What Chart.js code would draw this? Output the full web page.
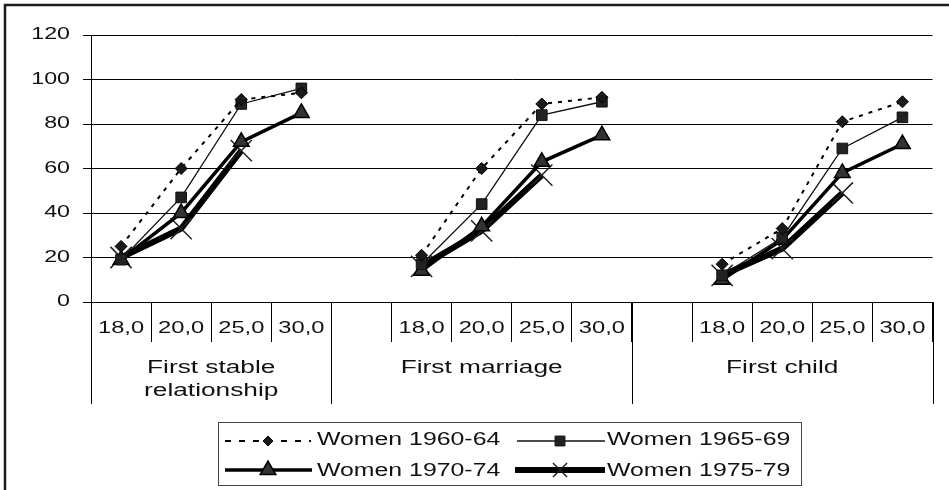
<!DOCTYPE html>
<html>
<head>
<meta charset="utf-8">
<script src="https://cdn.jsdelivr.net/npm/chart.js@4.4.1/dist/chart.umd.min.js"></script>
<style>
  html, body { margin: 0; padding: 0; background: #fff; }
  canvas { display: block; }
</style>
</head>
<body>
<canvas id="chart" width="949" height="490"></canvas>
<script>
// values, one list per group (stable rel., marriage, child)
const ages = ["18,0", "20,0", "25,0", "30,0"];
const groups = [["First stable", "relationship"], ["First marriage"], ["First child"]];
const yTicks = [0, 20, 40, 60, 80, 100, 120];

const w6064 = [[25, 60, 91, 94], [21, 60, 89, 92], [17, 33, 81, 90]];
const w6569 = [[19, 47, 89, 96], [17, 44, 84, 90], [12, 29, 69, 83]];
const w7074 = [[19, 40, 72, 85], [14, 34, 63, 75], [10, 28, 58, 71]];
const w7579 = [[20, 33, 68, null], [16, 32, 57, null], [12, 24, 49, null]];

const FONT = '"Liberation Sans", Arial, sans-serif';

// flatten: a blank slot in front of every group but the first
const labels = [];
const groupStart = [];
groups.forEach((g, i) => {
  if (i > 0) labels.push("");
  groupStart.push(labels.length - (i > 0 ? 1 : 0));
  ages.forEach(a => labels.push(a));
});
groupStart.push(labels.length);

function flat(series) {
  const out = [];
  series.forEach((vals, i) => {
    if (i > 0) out.push(null);
    vals.forEach(v => out.push(v));
  });
  return out;
}

function wideText(ctx, txt, x, y, size, sx, align, base) {
  ctx.save();
  ctx.translate(x, y);
  ctx.scale(sx, 1);
  ctx.font = size + "px " + FONT;
  ctx.textAlign = align;
  ctx.textBaseline = base || "alphabetic";
  ctx.fillStyle = "#111";
  ctx.fillText(txt, 0, 0);
  ctx.restore();
}

function marker(ctx, style, r, x, y, fill, stroke, bw) {
  ctx.save();
  ctx.beginPath();
  if (style === "rectRot") {
    ctx.moveTo(x - r, y); ctx.lineTo(x, y - r); ctx.lineTo(x + r, y); ctx.lineTo(x, y + r); ctx.closePath();
  } else if (style === "rect") {
    const s = r * Math.SQRT1_2;
    ctx.rect(x - s, y - s, 2 * s, 2 * s);
  } else if (style === "triangle") {
    ctx.moveTo(x, y - r);
    ctx.lineTo(x + r * 0.866, y + r * 0.5);
    ctx.lineTo(x - r * 0.866, y + r * 0.5);
    ctx.closePath();
  } else if (style === "crossRot") {
    const o = r * Math.SQRT1_2;
    ctx.moveTo(x - o, y - o); ctx.lineTo(x + o, y + o);
    ctx.moveTo(x - o, y + o); ctx.lineTo(x + o, y - o);
  }
  ctx.fillStyle = fill;
  ctx.strokeStyle = stroke;
  ctx.lineWidth = bw;
  if (style !== "crossRot") ctx.fill();
  ctx.stroke();
  ctx.restore();
}

const legendPos = [
  { lx0: 225, lx1: 311, mx: 268, tx: 317, y: 441, ty: 445, r: 5 },
  { lx0: 517, lx1: 605, mx: 560, tx: 607, y: 441, ty: 445, r: 7 },
  { lx0: 225, lx1: 312, mx: 268, tx: 317, y: 470, ty: 475.5, r: 9 },
  { lx0: 515, lx1: 605, mx: 560, tx: 607, y: 470, ty: 475.5, r: 10 }
];

const decor = {
  id: "decor",
  afterDraw(chart) {
    const ctx = chart.ctx;
    const xs = chart.scales.x, ys = chart.scales.y;
    const slot = xs.getPixelForValue(1) - xs.getPixelForValue(0);
    const base = ys.getPixelForValue(0);

    // outer frame (only left and top are visible)
    ctx.save();
    ctx.strokeStyle = "#1a1a1a";
    ctx.lineWidth = 2.5;
    ctx.beginPath();
    ctx.moveTo(5, 490); ctx.lineTo(5, 5); ctx.lineTo(949, 5);
    ctx.stroke();

    // long separators under the category axis
    ctx.strokeStyle = "#000";
    ctx.lineWidth = 1;
    groupStart.forEach(i => {
      const bx = Math.round(xs.getPixelForValue(i) - slot / 2) + 0.5;
      ctx.beginPath();
      ctx.moveTo(bx, base);
      ctx.lineTo(bx, 404);
      ctx.stroke();
    });
    ctx.restore();

    // y tick labels
    ys.ticks.forEach(t => {
      wideText(ctx, String(t.value), 70, ys.getPixelForValue(t.value), 16, 1.45, "right", "middle");
    });

    // x tick labels
    labels.forEach((l, i) => {
      if (l) wideText(ctx, l, xs.getPixelForValue(i), 329, 16, 1.48, "center", "middle");
    });

    // group labels
    groups.forEach((lines, g) => {
      const a = xs.getPixelForValue(groupStart[g]) - slot / 2;
      const b = xs.getPixelForValue(groupStart[g + 1]) - slot / 2;
      lines.forEach((txt, k) => {
        wideText(ctx, txt, (a + b) / 2, 373 + k * 23, 17.5, 1.5, "center");
      });
    });

    // legend
    ctx.save();
    ctx.strokeStyle = "#444";
    ctx.lineWidth = 1;
    ctx.strokeRect(218.5, 422.5, 583, 63);
    ctx.restore();
    chart.data.datasets.forEach((ds, i) => {
      const p = legendPos[i];
      ctx.save();
      ctx.strokeStyle = ds.borderColor;
      ctx.lineWidth = ds.borderWidth;
      ctx.setLineDash(ds.borderDash ? [6, 8] : []);
      ctx.beginPath();
      ctx.moveTo(p.lx0, p.y);
      ctx.lineTo(p.lx1, p.y);
      ctx.stroke();
      ctx.restore();
      marker(ctx, ds.pointStyle, p.r, p.mx, p.y, ds.pointBackgroundColor, ds.pointBorderColor, ds.pointBorderWidth);
      wideText(ctx, ds.label, p.tx, p.ty, 17.5, 1.42, "left");
    });
  }
};

new Chart(document.getElementById("chart"), {
  type: "line",
  data: {
    labels: labels,
    datasets: [
      { label: "Women 1960-64", data: flat(w6064), borderColor: "#000", borderWidth: 2, borderDash: [4, 6],
        pointStyle: "rectRot", pointRadius: 6, pointBackgroundColor: "#1a1a1a", pointBorderColor: "#000", pointBorderWidth: 1 },
      { label: "Women 1965-69", data: flat(w6569), borderColor: "#111", borderWidth: 1.3,
        pointStyle: "rect", pointRadius: 7.5, pointBackgroundColor: "#222", pointBorderColor: "#111", pointBorderWidth: 1 },
      { label: "Women 1970-74", data: flat(w7074), borderColor: "#000", borderWidth: 3.5,
        pointStyle: "triangle", pointRadius: 9, pointBackgroundColor: "#333", pointBorderColor: "#000", pointBorderWidth: 1.5 },
      { label: "Women 1975-79", data: flat(w7579), borderColor: "#000", borderWidth: 6,
        pointStyle: "crossRot", pointRadius: 15, pointBackgroundColor: "#222", pointBorderColor: "#222", pointBorderWidth: 1.5 }
    ]
  },
  options: {
    responsive: false,
    animation: false,
    devicePixelRatio: 1,
    layout: { padding: { left: 0, right: 14, top: 35, bottom: 0 } },
    elements: { line: { tension: 0, fill: false } },
    spanGaps: false,
    plugins: { legend: { display: false }, tooltip: { enabled: false } },
    scales: {
      x: {
        type: "category",
        offset: true,
        grid: { offset: true, drawOnChartArea: false, drawTicks: true, tickLength: 40, color: "#000", lineWidth: 1 },
        border: { display: true, color: "#000", width: 1 },
        ticks: { display: false, autoSkip: false },
        afterFit: s => { s.height = 188; }
      },
      y: {
        min: 0,
        max: 120,
        afterBuildTicks: s => { s.ticks = yTicks.map(v => ({ value: v })); },
        grid: { color: "#000", lineWidth: 1, tickLength: 8, drawTicks: true },
        border: { display: true, color: "#000", width: 1 },
        ticks: { display: false },
        afterFit: s => { s.width = 91; }
      }
    }
  },
  plugins: [decor]
});
</script>
</body>
</html>
